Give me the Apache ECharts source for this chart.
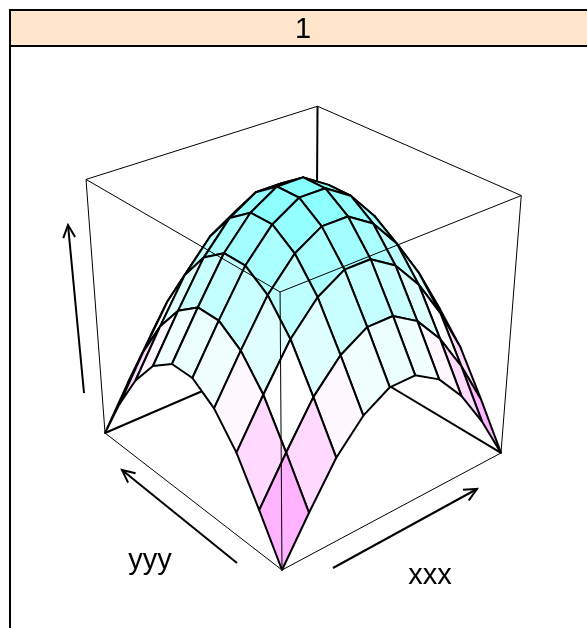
<!DOCTYPE html>
<html>
<head>
<meta charset="utf-8">
<style>html,body{margin:0;padding:0;background:#fff}#c{width:587px;height:628px}</style>
<script src="https://cdn.jsdelivr.net/npm/echarts@6/dist/echarts.min.js"></script>
</head>
<body>
<div id="c"></div>
<script>
// Surface heights (rows: y index, columns: x index), 0-1 box units
var zRows = [
  [0.00,0.17,0.33,0.44,0.50,0.50,0.44,0.33,0.18,0.00],
  [0.17,0.34,0.50,0.61,0.67,0.67,0.61,0.50,0.35,0.17],
  [0.33,0.50,0.66,0.77,0.83,0.83,0.77,0.66,0.51,0.33],
  [0.44,0.61,0.77,0.88,0.94,0.94,0.88,0.77,0.62,0.44],
  [0.50,0.67,0.83,0.94,1.00,1.00,0.94,0.83,0.68,0.50],
  [0.50,0.67,0.83,0.94,1.00,1.00,0.94,0.83,0.68,0.50],
  [0.44,0.61,0.77,0.88,0.94,0.94,0.88,0.77,0.62,0.44],
  [0.33,0.50,0.66,0.77,0.83,0.83,0.77,0.66,0.51,0.33],
  [0.18,0.35,0.51,0.62,0.68,0.68,0.62,0.51,0.36,0.18],
  [0.00,0.17,0.33,0.44,0.50,0.50,0.44,0.33,0.18,0.00]
];
var gridSteps = [0,1,2,3,4,5,6,7,8,9];
// Colour ramp of the height key: low, middle, high
var rampLow = [255,140,255], rampMid = [255,255,255], rampHigh = [135,255,255];
// Box edges as pairs of cube corners [x,y,z]
var backEdges = [
  [[1,1,0],[1,1,1]], [[1,1,0],[1,0,0]], [[1,1,0],[0,1,0]]
];
var frameEdges = [
  [[0,1,1],[1,1,1]], [[1,1,1],[1,0,1]],
  [[0,0,1],[0,1,1]], [[0,0,1],[1,0,1]], [[0,0,1],[0,0,0]],
  [[0,1,1],[0,1,0]], [[1,0,1],[1,0,0]],
  [[0,0,0],[0,1,0]], [[0,0,0],[1,0,0]]
];
// Axis direction arrows (tail, head) and their names
var arrows = [
  {name:'x', tail:[333,568], head:[477,489]},
  {name:'y', tail:[237,563], head:[122,470]},
  {name:'z', tail:[84,393], head:[68,225]}
];
var axisNames = {x:'xxx', y:'yyy'};
var stripLabel = '1';

// Perspective view matrix fitted to the box
var viewX = [282, 278.2, -162.1, -30.5];
var viewY = [570, -63.5, -75.7, -307.8];
var viewW = [1, 0.1182, 0.1415, -0.102];
function project(x, y, z) {
  var w = viewW[0] + viewW[1]*x + viewW[2]*y + viewW[3]*z;
  return [(viewX[0] + viewX[1]*x + viewX[2]*y + viewX[3]*z)/w,
          (viewY[0] + viewY[1]*x + viewY[2]*y + viewY[3]*z)/w];
}
function rampColor(v) {
  var a = v < 0.5 ? rampLow : rampMid, b = v < 0.5 ? rampMid : rampHigh;
  var t = v < 0.5 ? v/0.5 : (v-0.5)/0.5;
  return 'rgb(' + [0,1,2].map(function(k){return Math.round(a[k]+(b[k]-a[k])*t);}).join(',') + ')';
}
var n = gridSteps.length - 1;
// Facets, far corner first so that nearer ones paint over
var facets = [];
for (var iy = n-1; iy >= 0; iy--) {
  for (var ix = n-1; ix >= 0; ix--) {
    var m = (zRows[iy][ix]+zRows[iy][ix+1]+zRows[iy+1][ix]+zRows[iy+1][ix+1])/4;
    facets.push([ix, iy, m]);
  }
}
function nodeAt(api, ix, iy) {
  return api.coord(project(gridSteps[ix]/n, gridSteps[iy]/n, zRows[iy][ix]));
}
function edgeSeries(edges, width, z) {
  return {
    type:'custom', coordinateSystem:'cartesian2d', z:z, silent:true, clip:false,
    data: edges.map(function(e,i){return [i];}),
    renderItem:function(params, api){
      var e = edges[params.dataIndex];
      var a = api.coord(project(e[0][0],e[0][1],e[0][2]));
      var b = api.coord(project(e[1][0],e[1][1],e[1][2]));
      return {type:'line', shape:{x1:a[0],y1:a[1],x2:b[0],y2:b[1]},
              style:{stroke:'#000',lineWidth:width,fill:null}};
    }
  };
}
var chart = echarts.init(document.getElementById('c'), null, {renderer:'canvas'});
chart.setOption({
  animation:false,
  backgroundColor:'#fff',
  grid:{left:0,right:0,top:0,bottom:0,containLabel:false},
  xAxis:{type:'value',min:0,max:587,show:false},
  yAxis:{type:'value',min:0,max:628,inverse:true,show:false},
  graphic:[
    {type:'rect',z:0,shape:{x:10,y:10,width:640,height:36},style:{fill:'#FFE5CC',stroke:'#000',lineWidth:2}},
    {type:'rect',z:0,shape:{x:10,y:46,width:640,height:640},style:{fill:null,stroke:'#000',lineWidth:2}},
    {type:'text',z:10,x:303,y:30,style:{text:stripLabel,font:'29px "Liberation Sans", Arial, sans-serif',fill:'#000',textAlign:'center',textVerticalAlign:'middle'}},
    {type:'text',z:10,x:150,y:561,style:{text:axisNames.y,font:'29px "Liberation Sans", Arial, sans-serif',fill:'#000',textAlign:'center',textVerticalAlign:'middle'}},
    {type:'text',z:10,x:430,y:576,style:{text:axisNames.x,font:'29px "Liberation Sans", Arial, sans-serif',fill:'#000',textAlign:'center',textVerticalAlign:'middle'}}
  ],
  series:[
    edgeSeries(backEdges, 2, 1),
    {
      type:'custom', coordinateSystem:'cartesian2d', z:2, silent:true, clip:false,
      data:facets,
      renderItem:function(params, api){
        var ix = api.value(0), iy = api.value(1);
        var pts = [nodeAt(api,ix,iy),nodeAt(api,ix+1,iy),nodeAt(api,ix+1,iy+1),nodeAt(api,ix,iy+1)];
        return {type:'polygon', shape:{points:pts},
                style:{fill:rampColor(api.value(2)),stroke:'#000',lineWidth:2,lineJoin:'round'}};
      }
    },
    edgeSeries(frameEdges, 1, 3),
    {
      type:'custom', coordinateSystem:'cartesian2d', z:4, silent:true, clip:false,
      data:arrows.map(function(a,i){return [i];}),
      renderItem:function(params, api){
        var a = arrows[params.dataIndex];
        var t = api.coord(a.tail), h = api.coord(a.head);
        var ang = Math.atan2(t[1]-h[1], t[0]-h[0]), len = 14, sp = 0.44;
        var l = [h[0]+len*Math.cos(ang+sp), h[1]+len*Math.sin(ang+sp)];
        var r = [h[0]+len*Math.cos(ang-sp), h[1]+len*Math.sin(ang-sp)];
        var st = {stroke:'#000',lineWidth:2,fill:null};
        return {type:'group',children:[
          {type:'line',shape:{x1:t[0],y1:t[1],x2:h[0],y2:h[1]},style:st},
          {type:'polyline',shape:{points:[l,h,r]},style:st}
        ]};
      }
    }
  ]
});
</script>
</body>
</html>
